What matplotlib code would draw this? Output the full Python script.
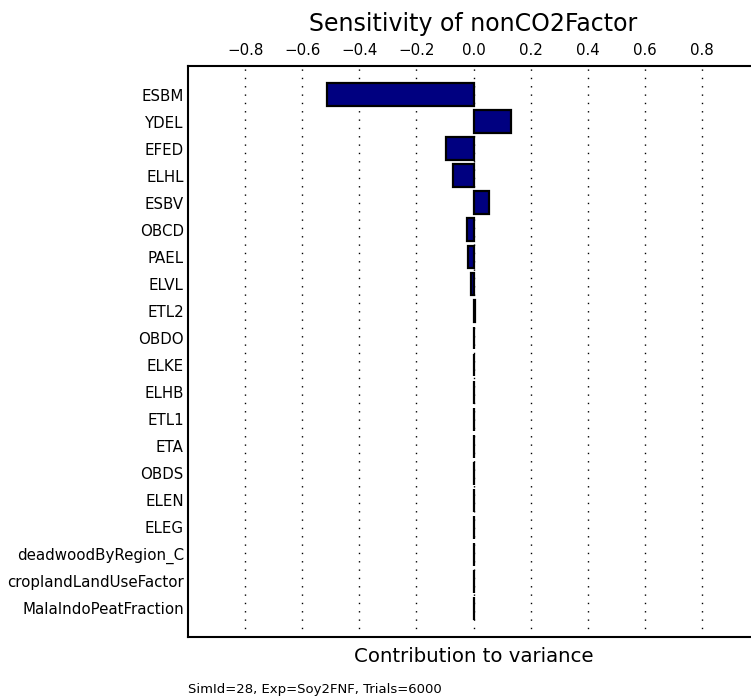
import matplotlib.pyplot as plt

# --- data ---
params = ['ESBM', 'YDEL', 'EFED', 'ELHL', 'ESBV', 'OBCD', 'PAEL', 'ELVL',
          'ETL2', 'OBDO', 'ELKE', 'ELHB', 'ETL1', 'ETA', 'OBDS', 'ELEN',
          'ELEG', 'deadwoodByRegion_C', 'croplandLandUseFactor',
          'MalaIndoPeatFraction']
contrib = [-0.514, 0.133, -0.098, -0.073, 0.056, -0.024, -0.021, -0.010,
           0.004, 0.003, 0.002, 0.002, 0.002, 0.002, 0.001, 0.001,
           0.001, 0.001, 0.001, 0.001]
xticks = [-0.8, -0.6, -0.4, -0.2, 0.0, 0.2, 0.4, 0.6, 0.8]

fig = plt.figure(figsize=(7.51, 6.98), dpi=100)
# axes runs past the right edge, like the reference (cropped)
ax = fig.add_axes([0.2503, 0.0874, 0.7604, 0.818])

ypos = list(range(len(params)))
ax.barh(ypos, contrib, height=0.85, color='#000080', edgecolor='black', linewidth=1.6)

ax.set_xlim(-1, 1)
ax.set_ylim(len(params) - 1 + 1.07, -1.07)
ax.set_yticks(ypos)
ax.set_yticklabels(params, fontsize=10.8)
ax.tick_params(axis='y', length=0, pad=3)

ax.xaxis.tick_top()
ax.set_xticks(xticks)
ax.set_xticklabels([f'{t:.1f}'.replace('-', '\u2212') for t in xticks], fontsize=10.8)
ax.tick_params(axis='x', length=0, pad=6)
ax.grid(axis='x', color='black', linestyle=(0, (1, 5)), linewidth=1.0)
ax.set_axisbelow(True)

for side in ['top', 'bottom', 'left', 'right']:
    ax.spines[side].set_linewidth(1.5)

ax.set_title('Sensitivity of nonCO2Factor', fontsize=17, pad=25)
ax.set_xlabel('Contribution to variance', fontsize=14.2, labelpad=7)

fig.text(188 / 751, 1 - 690 / 698, 'SimId=28, Exp=Soy2FNF, Trials=6000',
         fontsize=9.5, ha='left', va='center')

fig.savefig('out.png', dpi=100)
